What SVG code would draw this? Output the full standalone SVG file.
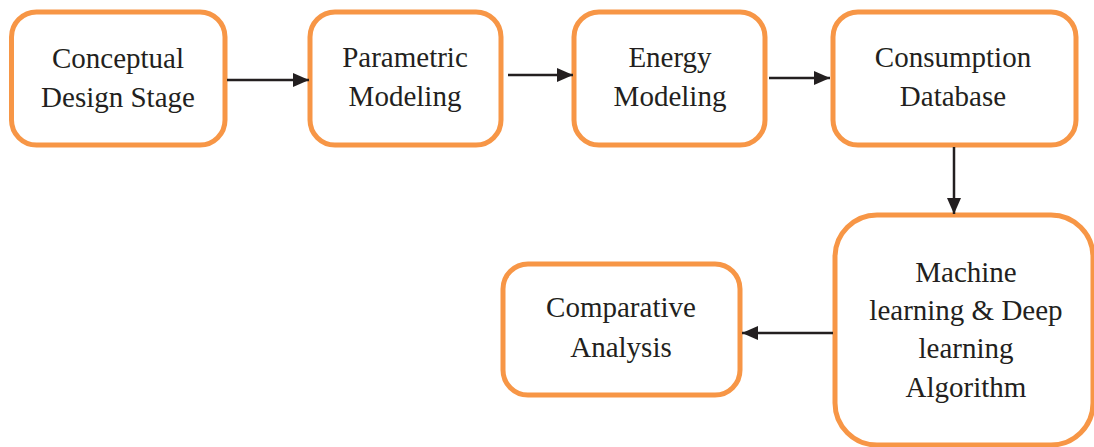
<svg xmlns="http://www.w3.org/2000/svg" width="1094" height="447" viewBox="0 0 1094 447">
<style>
.box{fill:#fff;stroke:#F79646;stroke-width:5}
.t{font-family:"Liberation Serif","Times New Roman",serif;font-size:29px;fill:#231F20;text-anchor:middle}
.c{stroke:#231F20;stroke-width:2.5;fill:none}
</style>
<defs>
<marker id="ah" markerWidth="16" markerHeight="14" refX="16" refY="7" orient="auto" markerUnits="userSpaceOnUse" viewBox="0 0 16 14">
<path d="M0,0 L16,7 L0,14 Z" fill="#231F20"/>
</marker>
</defs>
<g id="n1"><rect class="box" x="11.5" y="12" width="213.5" height="133" rx="25"/><text class="t" x="118" y="68">Conceptual</text><text class="t" x="118" y="107">Design Stage</text></g>
<g id="n2"><rect class="box" x="310" y="12" width="191" height="133" rx="25"/><text class="t" x="405" y="67">Parametric</text><text class="t" x="405" y="106">Modeling</text></g>
<g id="n3"><rect class="box" x="574" y="12" width="191" height="133" rx="25"/><text class="t" x="670" y="67">Energy</text><text class="t" x="670" y="106">Modeling</text></g>
<g id="n4"><rect class="box" x="833" y="12" width="243" height="133" rx="25"/><text class="t" x="953" y="67">Consumption</text><text class="t" x="953" y="106">Database</text></g>
<g id="n5"><rect class="box" x="835" y="215" width="258" height="230" rx="42"/><text class="t" x="966" y="282">Machine</text><text class="t" x="966" y="320">learning &amp; Deep</text><text class="t" x="966" y="358">learning</text><text class="t" x="966" y="397">Algorithm</text></g>
<g id="n6"><rect class="box" x="503" y="264" width="237" height="131" rx="25"/><text class="t" x="621" y="317">Comparative</text><text class="t" x="621" y="357">Analysis</text></g>
<g id="connectors">
<line class="c" x1="227" y1="80" x2="309" y2="80" marker-end="url(#ah)"/>
<line class="c" x1="508" y1="75" x2="573" y2="75" marker-end="url(#ah)"/>
<line class="c" x1="769" y1="78" x2="830" y2="78" marker-end="url(#ah)"/>
<line class="c" x1="954" y1="147" x2="954" y2="214" marker-end="url(#ah)"/>
<line class="c" x1="833" y1="333" x2="742" y2="333" marker-end="url(#ah)"/>
</g>
</svg>
